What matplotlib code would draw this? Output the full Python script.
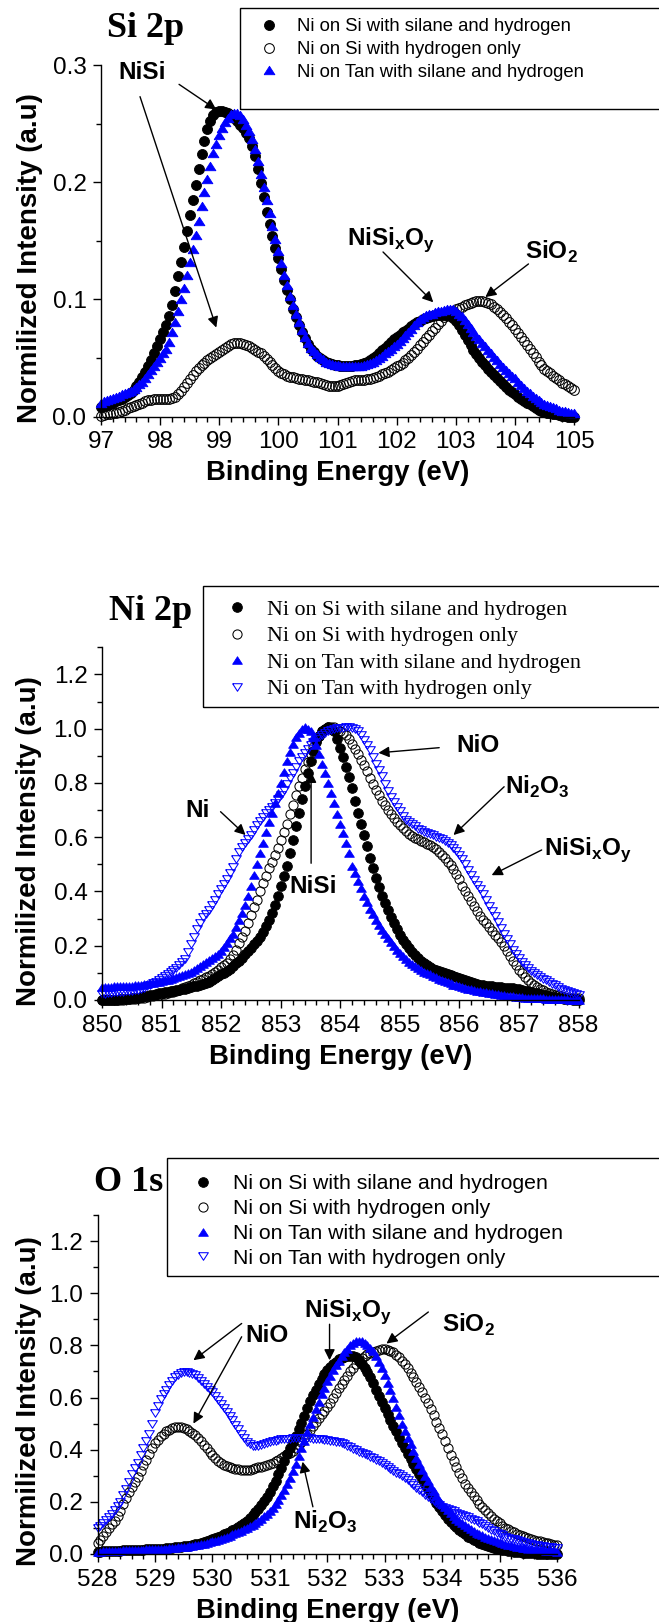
import numpy as np
import matplotlib
matplotlib.use('Agg')
import matplotlib.pyplot as plt
from matplotlib.patches import Rectangle
from matplotlib.ticker import MultipleLocator, FormatStrFormatter

plt.rcParams['font.family'] = ['Liberation Sans', 'DejaVu Sans']
plt.rcParams['mathtext.fontset'] = 'custom'
plt.rcParams['mathtext.bf'] = 'Liberation Sans:bold'
plt.rcParams['mathtext.rm'] = 'Liberation Sans'

# ---------------- data ----------------
labels = ["Ni on Si with silane and hydrogen",
          "Ni on Si with hydrogen only",
          "Ni on Tan with silane and hydrogen",
          "Ni on Tan with hydrogen only"]

# Si 2p (97.00 ... 105.00 eV, 0.05 eV steps)
si_energy = np.round(np.arange(97.0, 105.001, 0.05), 2)
si_si_silane = [0.008, 0.009, 0.010, 0.011, 0.012, 0.013, 0.014, 0.0155, 0.017, 0.0185,
                0.020, 0.023, 0.026, 0.030, 0.034, 0.038, 0.043, 0.048, 0.054, 0.060,
                0.066, 0.072, 0.078, 0.086, 0.095, 0.107, 0.120, 0.132, 0.145, 0.158,
                0.172, 0.185, 0.198, 0.211, 0.224, 0.235, 0.245, 0.252, 0.257, 0.260,
                0.261, 0.261, 0.260, 0.259, 0.257, 0.255, 0.252, 0.249, 0.246, 0.242,
                0.238, 0.231, 0.222, 0.211, 0.199, 0.187, 0.175, 0.164, 0.154, 0.144,
                0.135, 0.126, 0.117, 0.108, 0.100, 0.092, 0.085, 0.078, 0.072, 0.067,
                0.062, 0.058, 0.055, 0.052, 0.050, 0.048, 0.047, 0.046, 0.045, 0.0445,
                0.044, 0.0435, 0.043, 0.043, 0.043, 0.0435, 0.044, 0.0445, 0.045, 0.046,
                0.047, 0.0485, 0.050, 0.052, 0.054, 0.0565, 0.059, 0.0615, 0.064, 0.066,
                0.068, 0.070, 0.072, 0.0735, 0.075, 0.077, 0.079, 0.0805, 0.082, 0.083,
                0.084, 0.085, 0.086, 0.0865, 0.087, 0.087, 0.087, 0.0865, 0.086, 0.084,
                0.082, 0.078, 0.074, 0.0695, 0.065, 0.061, 0.057, 0.0535, 0.050, 0.047,
                0.044, 0.041, 0.038, 0.0355, 0.033, 0.0305, 0.028, 0.0255, 0.023, 0.021,
                0.019, 0.017, 0.015, 0.0135, 0.012, 0.0105, 0.009, 0.0075, 0.006, 0.005,
                0.004, 0.0035, 0.003, 0.0025, 0.002, 0.0015, 0.001, 0.0005, 0.000, 0.000,
                0.000]
si_si_h2 = [0.001, 0.0015, 0.002, 0.0025, 0.003, 0.0035, 0.004, 0.005, 0.006, 0.007,
            0.008, 0.009, 0.010, 0.011, 0.012, 0.013, 0.014, 0.0145, 0.015, 0.015,
            0.015, 0.015, 0.015, 0.0155, 0.016, 0.017, 0.019, 0.022, 0.025, 0.0285,
            0.032, 0.0355, 0.039, 0.0415, 0.044, 0.046, 0.048, 0.050, 0.052, 0.0535,
            0.055, 0.057, 0.059, 0.0605, 0.062, 0.0625, 0.063, 0.063, 0.062, 0.061,
            0.060, 0.0585, 0.057, 0.0555, 0.054, 0.0515, 0.049, 0.0465, 0.044, 0.0415,
            0.039, 0.0375, 0.036, 0.035, 0.034, 0.0335, 0.033, 0.0325, 0.032, 0.0315,
            0.031, 0.0305, 0.030, 0.0295, 0.029, 0.028, 0.027, 0.0265, 0.026, 0.026,
            0.026, 0.027, 0.028, 0.029, 0.030, 0.0305, 0.031, 0.031, 0.031, 0.0315,
            0.032, 0.0325, 0.033, 0.034, 0.035, 0.036, 0.037, 0.0385, 0.040, 0.0415,
            0.043, 0.0445, 0.046, 0.048, 0.050, 0.0525, 0.055, 0.058, 0.061, 0.064,
            0.067, 0.070, 0.073, 0.076, 0.079, 0.082, 0.085, 0.087, 0.089, 0.0905,
            0.092, 0.093, 0.094, 0.095, 0.096, 0.097, 0.098, 0.0985, 0.099, 0.0985,
            0.098, 0.097, 0.096, 0.094, 0.092, 0.0895, 0.087, 0.084, 0.081, 0.078,
            0.075, 0.0715, 0.068, 0.0645, 0.061, 0.0575, 0.054, 0.0505, 0.047, 0.044,
            0.041, 0.039, 0.037, 0.035, 0.033, 0.031, 0.029, 0.0275, 0.026, 0.0245,
            0.023]
si_tan_silane = [0.012, 0.013, 0.014, 0.015, 0.016, 0.017, 0.018, 0.019, 0.020, 0.021,
                 0.022, 0.0235, 0.025, 0.0275, 0.030, 0.033, 0.036, 0.0395, 0.043, 0.0465,
                 0.050, 0.054, 0.058, 0.064, 0.072, 0.081, 0.090, 0.100, 0.110, 0.121,
                 0.132, 0.143, 0.155, 0.167, 0.180, 0.192, 0.203, 0.214, 0.225, 0.233,
                 0.240, 0.246, 0.251, 0.255, 0.258, 0.259, 0.259, 0.257, 0.254, 0.249,
                 0.244, 0.237, 0.228, 0.218, 0.207, 0.196, 0.185, 0.174, 0.163, 0.152,
                 0.141, 0.131, 0.121, 0.112, 0.103, 0.095, 0.088, 0.081, 0.074, 0.068,
                 0.063, 0.059, 0.056, 0.0535, 0.051, 0.049, 0.047, 0.046, 0.045, 0.0445,
                 0.044, 0.0435, 0.043, 0.043, 0.043, 0.043, 0.043, 0.043, 0.0435, 0.044,
                 0.045, 0.046, 0.047, 0.0485, 0.050, 0.052, 0.054, 0.056, 0.058, 0.060,
                 0.062, 0.0645, 0.067, 0.0695, 0.072, 0.075, 0.078, 0.0805, 0.083, 0.085,
                 0.0865, 0.0875, 0.088, 0.089, 0.090, 0.0905, 0.091, 0.0915, 0.092, 0.0915,
                 0.090, 0.088, 0.086, 0.0825, 0.079, 0.0755, 0.072, 0.069, 0.066, 0.063,
                 0.060, 0.057, 0.054, 0.051, 0.048, 0.045, 0.042, 0.0395, 0.037, 0.035,
                 0.033, 0.030, 0.027, 0.0245, 0.022, 0.020, 0.018, 0.016, 0.014, 0.0125,
                 0.011, 0.010, 0.009, 0.008, 0.007, 0.006, 0.005, 0.0045, 0.004, 0.0035,
                 0.003]

# Ni 2p (850.00 ... 858.00 eV, 0.05 eV steps)
ni_energy = np.round(np.arange(850.0, 858.001, 0.05), 2)
ni_si_silane = [0.000, 0.000, 0.000, 0.0005, 0.001, 0.0015, 0.002, 0.003, 0.004, 0.005,
                0.006, 0.0075, 0.009, 0.011, 0.013, 0.0155, 0.018, 0.020, 0.022, 0.024,
                0.026, 0.028, 0.030, 0.032, 0.034, 0.036, 0.038, 0.040, 0.042, 0.0445,
                0.047, 0.050, 0.053, 0.056, 0.059, 0.063, 0.067, 0.073, 0.080, 0.087,
                0.094, 0.101, 0.108, 0.116, 0.125, 0.135, 0.145, 0.156, 0.168, 0.180,
                0.192, 0.205, 0.218, 0.234, 0.252, 0.272, 0.295, 0.321, 0.350, 0.383,
                0.420, 0.456, 0.495, 0.541, 0.590, 0.640, 0.690, 0.740, 0.790, 0.837,
                0.880, 0.918, 0.950, 0.973, 0.990, 1.000, 1.005, 1.000, 0.990, 0.963,
                0.930, 0.896, 0.860, 0.821, 0.780, 0.735, 0.690, 0.650, 0.610, 0.567,
                0.525, 0.487, 0.450, 0.417, 0.385, 0.357, 0.330, 0.305, 0.282, 0.260,
                0.240, 0.222, 0.205, 0.190, 0.177, 0.165, 0.153, 0.144, 0.136, 0.129,
                0.122, 0.116, 0.111, 0.107, 0.103, 0.0995, 0.096, 0.092, 0.088, 0.084,
                0.080, 0.076, 0.072, 0.0685, 0.065, 0.062, 0.059, 0.057, 0.055, 0.053,
                0.051, 0.050, 0.049, 0.048, 0.047, 0.046, 0.045, 0.044, 0.043, 0.0415,
                0.040, 0.0375, 0.035, 0.0325, 0.030, 0.0275, 0.025, 0.0225, 0.020, 0.0175,
                0.015, 0.0125, 0.010, 0.008, 0.006, 0.0045, 0.003, 0.002, 0.001, 0.0005,
                0.000]
ni_si_h2 = [0.000, 0.000, 0.000, 0.000, 0.000, 0.0005, 0.001, 0.0015, 0.002, 0.003,
            0.004, 0.005, 0.006, 0.0075, 0.009, 0.011, 0.013, 0.015, 0.017, 0.019,
            0.021, 0.023, 0.025, 0.028, 0.031, 0.0345, 0.038, 0.0425, 0.047, 0.052,
            0.057, 0.0625, 0.068, 0.073, 0.078, 0.084, 0.090, 0.097, 0.104, 0.112,
            0.120, 0.128, 0.137, 0.150, 0.165, 0.186, 0.210, 0.232, 0.255, 0.285,
            0.315, 0.342, 0.370, 0.400, 0.430, 0.458, 0.485, 0.510, 0.535, 0.562,
            0.590, 0.620, 0.650, 0.685, 0.720, 0.755, 0.790, 0.820, 0.850, 0.878,
            0.905, 0.931, 0.955, 0.974, 0.990, 0.999, 1.005, 1.006, 1.005, 0.999,
            0.990, 0.983, 0.975, 0.961, 0.945, 0.925, 0.905, 0.885, 0.865, 0.843,
            0.820, 0.797, 0.775, 0.755, 0.735, 0.717, 0.700, 0.685, 0.670, 0.657,
            0.645, 0.633, 0.622, 0.613, 0.604, 0.598, 0.592, 0.587, 0.582, 0.576,
            0.570, 0.563, 0.556, 0.546, 0.536, 0.523, 0.510, 0.496, 0.482, 0.464,
            0.445, 0.422, 0.400, 0.382, 0.365, 0.346, 0.327, 0.311, 0.296, 0.282,
            0.268, 0.254, 0.240, 0.228, 0.215, 0.199, 0.182, 0.163, 0.145, 0.128,
            0.112, 0.098, 0.085, 0.073, 0.062, 0.054, 0.047, 0.041, 0.036, 0.031,
            0.027, 0.0235, 0.020, 0.017, 0.014, 0.0115, 0.009, 0.008, 0.007, 0.0065,
            0.006]
ni_tan_silane = [0.048, 0.0485, 0.049, 0.0495, 0.050, 0.0505, 0.051, 0.0515, 0.052, 0.0525,
                 0.053, 0.054, 0.055, 0.0565, 0.058, 0.060, 0.062, 0.064, 0.066, 0.068,
                 0.070, 0.072, 0.074, 0.077, 0.080, 0.0835, 0.087, 0.091, 0.095, 0.100,
                 0.105, 0.111, 0.118, 0.125, 0.132, 0.140, 0.148, 0.155, 0.163, 0.171,
                 0.180, 0.194, 0.210, 0.227, 0.245, 0.268, 0.295, 0.322, 0.350, 0.384,
                 0.420, 0.460, 0.500, 0.540, 0.580, 0.618, 0.655, 0.690, 0.725, 0.762,
                 0.800, 0.841, 0.880, 0.915, 0.945, 0.968, 0.985, 0.998, 1.005, 1.000,
                 0.990, 0.968, 0.940, 0.906, 0.870, 0.835, 0.800, 0.762, 0.725, 0.687,
                 0.650, 0.615, 0.580, 0.540, 0.495, 0.467, 0.440, 0.412, 0.385, 0.360,
                 0.337, 0.316, 0.296, 0.277, 0.259, 0.243, 0.228, 0.214, 0.200, 0.186,
                 0.172, 0.161, 0.150, 0.141, 0.132, 0.124, 0.117, 0.111, 0.105, 0.0995,
                 0.094, 0.089, 0.084, 0.079, 0.074, 0.0695, 0.065, 0.061, 0.057, 0.0535,
                 0.050, 0.047, 0.044, 0.0415, 0.039, 0.0365, 0.034, 0.032, 0.030, 0.028,
                 0.026, 0.024, 0.022, 0.0205, 0.019, 0.0175, 0.016, 0.0145, 0.013, 0.012,
                 0.011, 0.010, 0.009, 0.0085, 0.008, 0.0075, 0.007, 0.0065, 0.006, 0.0055,
                 0.005, 0.0045, 0.004, 0.0035, 0.003, 0.0025, 0.002, 0.0015, 0.001, 0.0005,
                 0.000]
ni_tan_h2 = [0.022, 0.0235, 0.025, 0.0265, 0.028, 0.029, 0.030, 0.031, 0.032, 0.033,
             0.034, 0.0355, 0.037, 0.041, 0.045, 0.050, 0.055, 0.0615, 0.068, 0.075,
             0.082, 0.0895, 0.097, 0.1035, 0.110, 0.119, 0.128, 0.140, 0.152, 0.178,
             0.205, 0.233, 0.260, 0.283, 0.305, 0.318, 0.330, 0.350, 0.370, 0.390,
             0.410, 0.428, 0.445, 0.467, 0.490, 0.518, 0.545, 0.563, 0.580, 0.595,
             0.610, 0.628, 0.645, 0.660, 0.675, 0.688, 0.700, 0.713, 0.725, 0.740,
             0.755, 0.775, 0.795, 0.817, 0.838, 0.859, 0.880, 0.896, 0.912, 0.926,
             0.940, 0.951, 0.962, 0.970, 0.978, 0.984, 0.990, 0.994, 0.998, 1.001,
             1.003, 1.004, 1.005, 1.005, 1.004, 0.998, 0.990, 0.976, 0.960, 0.940,
             0.920, 0.895, 0.870, 0.848, 0.825, 0.797, 0.770, 0.750, 0.730, 0.712,
             0.695, 0.680, 0.665, 0.656, 0.648, 0.640, 0.632, 0.626, 0.621, 0.616,
             0.612, 0.607, 0.602, 0.5975, 0.593, 0.587, 0.580, 0.570, 0.560, 0.548,
             0.535, 0.518, 0.500, 0.480, 0.460, 0.443, 0.425, 0.408, 0.390, 0.369,
             0.348, 0.329, 0.310, 0.288, 0.265, 0.245, 0.225, 0.205, 0.185, 0.170,
             0.155, 0.141, 0.128, 0.117, 0.107, 0.0995, 0.092, 0.085, 0.078, 0.072,
             0.066, 0.060, 0.054, 0.048, 0.042, 0.037, 0.032, 0.028, 0.024, 0.021,
             0.018]

# O 1s (528.00 ... 536.00 eV, 0.05 eV steps)
o_energy = np.round(np.arange(528.0, 536.001, 0.05), 2)
o_si_silane = [0.009, 0.0095, 0.010, 0.0105, 0.011, 0.0115, 0.012, 0.0125, 0.013, 0.0135,
               0.014, 0.0145, 0.015, 0.0155, 0.016, 0.0165, 0.017, 0.0175, 0.018, 0.0185,
               0.019, 0.0195, 0.020, 0.021, 0.022, 0.023, 0.024, 0.025, 0.026, 0.0275,
               0.029, 0.0305, 0.032, 0.0345, 0.037, 0.040, 0.043, 0.0465, 0.050, 0.054,
               0.058, 0.062, 0.066, 0.0705, 0.075, 0.080, 0.085, 0.0905, 0.096, 0.103,
               0.110, 0.119, 0.128, 0.138, 0.148, 0.160, 0.172, 0.187, 0.203, 0.220,
               0.238, 0.259, 0.280, 0.305, 0.330, 0.357, 0.383, 0.407, 0.430, 0.454,
               0.478, 0.504, 0.530, 0.558, 0.585, 0.608, 0.630, 0.651, 0.672, 0.689,
               0.705, 0.718, 0.730, 0.738, 0.746, 0.751, 0.755, 0.758, 0.760, 0.758,
               0.755, 0.744, 0.730, 0.714, 0.698, 0.677, 0.655, 0.630, 0.605, 0.582,
               0.560, 0.537, 0.515, 0.492, 0.470, 0.447, 0.425, 0.405, 0.385, 0.365,
               0.345, 0.326, 0.307, 0.288, 0.270, 0.250, 0.230, 0.212, 0.195, 0.179,
               0.163, 0.149, 0.135, 0.123, 0.112, 0.102, 0.093, 0.084, 0.075, 0.067,
               0.060, 0.054, 0.048, 0.043, 0.038, 0.034, 0.030, 0.027, 0.024, 0.021,
               0.018, 0.016, 0.014, 0.012, 0.010, 0.0085, 0.007, 0.006, 0.005, 0.004,
               0.003, 0.0025, 0.002, 0.0015, 0.001, 0.0005, 0.000, 0.000, 0.000, 0.000,
               0.000]
o_si_h2 = [0.041, 0.054, 0.068, 0.084, 0.100, 0.114, 0.128, 0.146, 0.165, 0.190,
           0.215, 0.237, 0.258, 0.276, 0.295, 0.317, 0.340, 0.362, 0.385, 0.405,
           0.424, 0.439, 0.452, 0.462, 0.470, 0.477, 0.482, 0.486, 0.488, 0.487,
           0.484, 0.479, 0.472, 0.464, 0.455, 0.445, 0.433, 0.419, 0.405, 0.391,
           0.378, 0.367, 0.358, 0.349, 0.342, 0.336, 0.332, 0.329, 0.326, 0.3245,
           0.323, 0.3225, 0.323, 0.324, 0.326, 0.329, 0.332, 0.335, 0.338, 0.3415,
           0.345, 0.350, 0.356, 0.362, 0.368, 0.375, 0.382, 0.389, 0.396, 0.406,
           0.418, 0.431, 0.445, 0.459, 0.474, 0.489, 0.505, 0.520, 0.535, 0.549,
           0.563, 0.580, 0.598, 0.616, 0.635, 0.652, 0.668, 0.684, 0.700, 0.714,
           0.727, 0.739, 0.750, 0.758, 0.766, 0.771, 0.776, 0.780, 0.784, 0.785,
           0.786, 0.784, 0.780, 0.773, 0.765, 0.754, 0.742, 0.728, 0.712, 0.696,
           0.678, 0.659, 0.640, 0.620, 0.600, 0.578, 0.555, 0.532, 0.508, 0.484,
           0.460, 0.432, 0.405, 0.380, 0.355, 0.332, 0.310, 0.290, 0.270, 0.253,
           0.238, 0.222, 0.207, 0.193, 0.180, 0.168, 0.157, 0.146, 0.135, 0.126,
           0.117, 0.109, 0.101, 0.0945, 0.088, 0.083, 0.078, 0.0735, 0.069, 0.065,
           0.061, 0.0575, 0.054, 0.051, 0.048, 0.0455, 0.043, 0.0405, 0.038, 0.036,
           0.034]
o_tan_silane = [0.009, 0.0095, 0.010, 0.0105, 0.011, 0.0115, 0.012, 0.0125, 0.013, 0.0135,
                0.014, 0.0145, 0.015, 0.0155, 0.016, 0.0165, 0.017, 0.0175, 0.018, 0.0185,
                0.019, 0.0195, 0.020, 0.0205, 0.021, 0.022, 0.023, 0.024, 0.025, 0.026,
                0.027, 0.0285, 0.030, 0.0315, 0.033, 0.035, 0.037, 0.0395, 0.042, 0.045,
                0.048, 0.051, 0.054, 0.058, 0.062, 0.066, 0.070, 0.075, 0.080, 0.085,
                0.090, 0.0955, 0.101, 0.107, 0.113, 0.120, 0.127, 0.136, 0.145, 0.155,
                0.165, 0.177, 0.190, 0.207, 0.225, 0.246, 0.268, 0.293, 0.318, 0.346,
                0.375, 0.405, 0.435, 0.466, 0.497, 0.526, 0.555, 0.584, 0.612, 0.637,
                0.662, 0.684, 0.705, 0.724, 0.742, 0.759, 0.775, 0.788, 0.800, 0.808,
                0.815, 0.817, 0.816, 0.810, 0.802, 0.791, 0.778, 0.760, 0.738, 0.712,
                0.685, 0.657, 0.628, 0.597, 0.565, 0.533, 0.500, 0.472, 0.445, 0.420,
                0.395, 0.370, 0.345, 0.322, 0.300, 0.279, 0.258, 0.240, 0.222, 0.207,
                0.192, 0.179, 0.167, 0.156, 0.146, 0.136, 0.127, 0.118, 0.110, 0.102,
                0.095, 0.088, 0.082, 0.076, 0.071, 0.066, 0.061, 0.056, 0.052, 0.048,
                0.045, 0.042, 0.039, 0.036, 0.033, 0.0305, 0.028, 0.026, 0.024, 0.022,
                0.020, 0.0185, 0.017, 0.016, 0.015, 0.014, 0.013, 0.012, 0.011, 0.010,
                0.009]
o_tan_h2 = [0.098, 0.108, 0.118, 0.129, 0.140, 0.154, 0.168, 0.184, 0.200, 0.225,
            0.250, 0.278, 0.305, 0.328, 0.350, 0.378, 0.405, 0.432, 0.460, 0.500,
            0.540, 0.568, 0.595, 0.613, 0.630, 0.648, 0.665, 0.677, 0.688, 0.694,
            0.698, 0.697, 0.695, 0.690, 0.685, 0.675, 0.665, 0.653, 0.640, 0.630,
            0.620, 0.605, 0.590, 0.575, 0.560, 0.545, 0.530, 0.513, 0.495, 0.478,
            0.460, 0.445, 0.430, 0.422, 0.415, 0.414, 0.415, 0.417, 0.420, 0.424,
            0.428, 0.432, 0.435, 0.438, 0.440, 0.441, 0.442, 0.4425, 0.443, 0.443,
            0.443, 0.443, 0.443, 0.443, 0.443, 0.4425, 0.442, 0.441, 0.440, 0.4385,
            0.437, 0.435, 0.433, 0.4305, 0.428, 0.424, 0.420, 0.415, 0.410, 0.404,
            0.398, 0.393, 0.388, 0.383, 0.378, 0.373, 0.368, 0.3615, 0.355, 0.3475,
            0.340, 0.3335, 0.327, 0.3195, 0.312, 0.305, 0.298, 0.2905, 0.283, 0.274,
            0.265, 0.255, 0.245, 0.2365, 0.228, 0.220, 0.212, 0.2045, 0.197, 0.1895,
            0.182, 0.177, 0.172, 0.1675, 0.163, 0.159, 0.155, 0.150, 0.145, 0.140,
            0.135, 0.130, 0.125, 0.1195, 0.114, 0.107, 0.100, 0.0935, 0.087, 0.0815,
            0.076, 0.0715, 0.067, 0.063, 0.059, 0.056, 0.053, 0.050, 0.047, 0.044,
            0.041, 0.0385, 0.036, 0.034, 0.032, 0.030, 0.028, 0.0265, 0.025, 0.0235,
            0.022]

# ---------------- figure ----------------
W, H = 659, 1622
fig = plt.figure(figsize=(W / 100, H / 100), dpi=100)

def fx(px):
    return px / W

def fy(py):
    return 1 - py / H

# slightly wide triangles, as in the original rendering
TRI_UP = [(-1, -0.78), (1, -0.78), (0, 0.78), (-1, -0.78)]
TRI_DN = [(-1, 0.78), (1, 0.78), (0, -0.78), (-1, 0.78)]

def make_styles(circ, ocirc, tri):
    return [dict(marker='o', ms=circ, mfc='black', mec='black', mew=0.6),
            dict(marker='o', ms=ocirc, mfc='none', mec='black', mew=0.75),
            dict(marker=TRI_UP, ms=tri, mfc='blue', mec='blue', mew=0.6),
            dict(marker=TRI_DN, ms=tri, mfc='none', mec='blue', mew=0.75)]

TICK_FS = 17.5
XLABEL_FS = 19.8
YLABEL_FS = 20

def setup_axes(rect, xlim, ylim, ymajor, yminor, xticks, ylab_x):
    ax = fig.add_axes(rect)
    ax.set_xlim(*xlim)
    ax.set_ylim(*ylim)
    ax.spines['top'].set_visible(False)
    ax.spines['right'].set_visible(False)
    for s in ('left', 'bottom'):
        ax.spines[s].set_linewidth(1.0)
    ax.set_xticks(xticks)
    ax.set_xticklabels([str(t) for t in xticks])
    ax.xaxis.set_minor_locator(MultipleLocator(0.2))
    ax.yaxis.set_major_locator(MultipleLocator(ymajor))
    ax.yaxis.set_minor_locator(MultipleLocator(yminor))
    ax.yaxis.set_major_formatter(FormatStrFormatter('%.1f'))
    ax.tick_params(which='major', direction='out', length=6, width=1,
                   labelsize=TICK_FS, top=False, right=False, pad=4.5)
    ax.tick_params(which='minor', direction='out', length=3.5, width=1,
                   top=False, right=False)
    ax.set_xlabel('Binding Energy (eV)', fontsize=XLABEL_FS, fontweight='bold',
                  labelpad=5)
    ax.set_ylabel('Normilized Intensity (a.u)', fontsize=YLABEL_FS,
                  fontweight='bold')
    ax.yaxis.set_label_coords(ylab_x, 0.45)
    return ax

def draw_series(ax, x, series, styles):
    handles = []
    for y, st, lab in zip(series, styles, labels):
        h, = ax.plot(x, y, linestyle='none', label=lab, clip_on=False, **st)
        handles.append(h)
    return handles

def arrow(ax, start, end):
    ax.annotate('', xy=end, xytext=start, annotation_clip=False,
                arrowprops=dict(arrowstyle='-|>', color='black', lw=1.0,
                                mutation_scale=16, shrinkA=0, shrinkB=0))

def note(ax, x, y, s):
    ax.text(x, y, s, fontsize=17.5, fontweight='bold', ha='center', va='center')

def frame(x0, y0, y1):
    fig.patches.append(Rectangle((fx(x0), fy(y1)), 1.2, fy(y0) - fy(y1),
                                 transform=fig.transFigure, fill=False,
                                 edgecolor='black', linewidth=1.0, clip_on=False))

def add_legend(ax, handles, left, center_y, prop, textpad, spacing):
    ax.legend(handles=handles, loc='center left',
              bbox_to_anchor=(fx(left), fy(center_y)),
              bbox_transform=fig.transFigure, frameon=False, prop=prop,
              borderpad=0, borderaxespad=0, handlelength=1.0,
              handletextpad=textpad, labelspacing=spacing)

# ---- Panel 1: Si 2p ----
ax1 = setup_axes([fx(101), fy(416.7), fx(574) - fx(101), (416.7 - 65) / H],
                 (97, 105), (0, 0.3), 0.1, 0.05, list(range(97, 106)), -0.122)
h1 = draw_series(ax1, si_energy, [si_si_silane, si_si_h2, si_tan_silane],
                 make_styles(7.2, 7.0, 7.8))
frame(240, 8.3, 109)
add_legend(ax1, h1, 259.8, 49.5, dict(size=13.3), 1.0, 0.32)
fig.text(fx(146), fy(37), 'Si 2p', family='Liberation Serif', fontweight='bold',
         fontsize=26, ha='center', va='baseline')
note(ax1, 97.69, 0.294, 'NiSi')
arrow(ax1, (98.32, 0.2835), (98.95, 0.262))
arrow(ax1, (97.66, 0.273), (98.95, 0.076))
note(ax1, 101.91, 0.151, r'NiSi$_\mathbf{x}$O$_\mathbf{y}$')
arrow(ax1, (101.77, 0.1405), (102.62, 0.0976))
note(ax1, 104.62, 0.1405, r'SiO$_\mathbf{2}$')
arrow(ax1, (104.23, 0.1303), (103.5, 0.102))

# ---- Panel 2: Ni 2p ----
ax2 = setup_axes([fx(102), fy(1000), fx(578.6) - fx(102), (1000 - 647.3) / H],
                 (850, 858), (0, 1.3), 0.2, 0.1, list(range(850, 859)), -0.125)
h2 = draw_series(ax2, ni_energy, [ni_si_silane, ni_si_h2, ni_tan_silane, ni_tan_h2],
                 make_styles(7.0, 6.6, 7.0))
frame(203, 586, 707)
add_legend(ax2, h2, 226, 649.5, dict(family='Liberation Serif', size=15.8), 0.87, 0.28)
fig.text(fx(151), fy(620), 'Ni 2p', family='Liberation Serif', fontweight='bold',
         fontsize=26, ha='center', va='baseline')
note(ax2, 856.31, 0.937, 'NiO')
arrow(ax2, (855.66, 0.93), (854.64, 0.911))
note(ax2, 857.31, 0.786, r'Ni$_\mathbf{2}$O$_\mathbf{3}$')
arrow(ax2, (856.75, 0.786), (855.9, 0.608))
note(ax2, 858.16, 0.553, r'NiSi$_\mathbf{x}$O$_\mathbf{y}$')
arrow(ax2, (857.38, 0.553), (856.54, 0.46))
note(ax2, 851.6, 0.70, 'Ni')
arrow(ax2, (851.99, 0.694), (852.41, 0.608))
note(ax2, 853.54, 0.418, 'NiSi')
arrow(ax2, (853.51, 0.504), (853.51, 0.841))

# ---- Panel 3: O 1s ----
ax3 = setup_axes([fx(97.5), fy(1554), fx(557) - fx(97.5), (1554 - 1215) / H],
                 (528, 536), (0, 1.3), 0.2, 0.1, list(range(528, 537)), -0.121)
h3 = draw_series(ax3, o_energy, [o_si_silane, o_si_h2, o_tan_silane, o_tan_h2],
                 make_styles(7.0, 6.6, 7.0))
frame(167, 1158, 1276)
add_legend(ax3, h3, 192.4, 1221, dict(size=15.3), 0.91, 0.28)
fig.text(fx(129), fy(1191), 'O 1s', family='Liberation Serif', fontweight='bold',
         fontsize=26, ha='center', va='baseline')
note(ax3, 530.95, 0.839, 'NiO')
arrow(ax3, (530.51, 0.884), (529.67, 0.743))
arrow(ax3, (530.51, 0.833), (529.67, 0.50))
note(ax3, 532.37, 0.928, r'NiSi$_\mathbf{x}$O$_\mathbf{y}$')
arrow(ax3, (532.04, 0.881), (532.04, 0.743))
note(ax3, 534.46, 0.877, r'SiO$_\mathbf{2}$')
arrow(ax3, (533.76, 0.928), (533.03, 0.807))
note(ax3, 531.97, 0.124, r'Ni$_\mathbf{2}$O$_\mathbf{3}$')
arrow(ax3, (531.75, 0.181), (531.57, 0.354))

fig.savefig('out.png', dpi=100)
